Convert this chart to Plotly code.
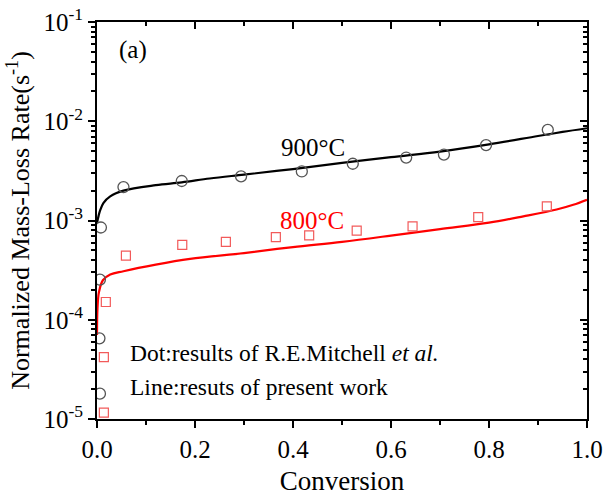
import plotly.graph_objects as go

# ---- data ----
conv_900_dots = [0.006, 0.005, 0.006, 0.008, 0.054, 0.173, 0.294, 0.418, 0.522, 0.631, 0.708, 0.794, 0.920]
rate_900_dots = [1.8e-5, 6.5e-5, 2.54e-4, 8.5e-4, 2.17e-3, 2.5e-3, 2.78e-3, 3.12e-3, 3.73e-3, 4.31e-3, 4.62e-3, 5.75e-3, 8.19e-3]

conv_800_dots = [0.014, 0.014, 0.018, 0.059, 0.174, 0.263, 0.365, 0.433, 0.530, 0.644, 0.778, 0.918]
rate_800_dots = [1.16e-5, 4.2e-5, 1.51e-4, 4.43e-4, 5.67e-4, 6.1e-4, 6.8e-4, 7.08e-4, 7.89e-4, 8.72e-4, 1.08e-3, 1.39e-3]

conv_900_line = [0.0, 0.003, 0.006, 0.013, 0.027, 0.054, 0.12, 0.173, 0.23, 0.3, 0.4, 0.5, 0.6, 0.7, 0.8, 0.9, 0.95, 1.0]
rate_900_line = [9.5e-4, 1.1e-3, 1.25e-3, 1.5e-3, 1.75e-3, 2.0e-3, 2.27e-3, 2.42e-3, 2.65e-3, 2.9e-3, 3.3e-3, 3.8e-3, 4.35e-3, 4.95e-3, 5.85e-3, 7.1e-3, 7.8e-3, 8.5e-3]

conv_800_line = [0.0, 0.001, 0.004, 0.012, 0.027, 0.054, 0.12, 0.19, 0.3, 0.4, 0.5, 0.6, 0.7, 0.8, 0.87, 0.938, 0.972, 1.0]
rate_800_line = [7e-5, 1.3e-4, 1.9e-4, 2.5e-4, 2.85e-4, 3.08e-4, 3.59e-4, 4.1e-4, 4.7e-4, 5.4e-4, 6.1e-4, 7.05e-4, 8.2e-4, 9.5e-4, 1.1e-3, 1.29e-3, 1.44e-3, 1.62e-3]

x_ticks = [0.0, 0.2, 0.4, 0.6, 0.8, 1.0]
x_tick_text = ["0.0", "0.2", "0.4", "0.6", "0.8", "1.0"]
y_ticks = [1e-5, 1e-4, 1e-3, 1e-2, 1e-1]
y_tick_text = ["10<sup>-5</sup>", "10<sup>-4</sup>", "10<sup>-3</sup>", "10<sup>-2</sup>", "10<sup>-1</sup>"]
y_minor = [m * 10.0 ** e for e in range(-5, -1) for m in range(2, 10)]
x_minor = [0.1, 0.3, 0.5, 0.7, 0.9]

FONT = "Liberation Serif, Times New Roman, serif"

fig = go.Figure()
fig.add_trace(go.Scatter(x=conv_900_line, y=rate_900_line, mode="lines",
                         line=dict(color="black", width=2.2, shape="spline"), showlegend=False))
fig.add_trace(go.Scatter(x=conv_800_line, y=rate_800_line, mode="lines",
                         line=dict(color="#ff0000", width=2.2, shape="spline"), showlegend=False))
fig.add_trace(go.Scatter(x=conv_900_dots, y=rate_900_dots, mode="markers",
                         marker=dict(symbol="circle-open", size=11, color="#555555", line=dict(width=1.3)),
                         showlegend=False))
fig.add_trace(go.Scatter(x=conv_800_dots, y=rate_800_dots, mode="markers",
                         marker=dict(symbol="square-open", size=9, color="#f25a5a", line=dict(width=1.2)),
                         showlegend=False))
# dummy trace to bind the mirror axes
fig.add_trace(go.Scatter(x=[None], y=[None], xaxis="x2", yaxis="y2", showlegend=False, hoverinfo="skip"))

axis_common = dict(showline=True, linecolor="black", linewidth=2, showgrid=False, zeroline=False,
                   tickcolor="black", tickwidth=2, ticklen=7, automargin=False,
                   tickfont=dict(family=FONT, size=25, color="black"))

fig.update_layout(
    width=603, height=496,
    margin=dict(l=97, r=16, t=22, b=77),
    plot_bgcolor="white", paper_bgcolor="white",
    font=dict(family=FONT, color="black"),
    xaxis=dict(**axis_common, range=[0, 1], ticks="outside", tickmode="array",
               tickvals=x_ticks, ticktext=x_tick_text,
               minor=dict(tickmode="array", tickvals=x_minor, ticks="outside", ticklen=4, tickwidth=2, tickcolor="black"),
               title=dict(text="Conversion", font=dict(family=FONT, size=27), standoff=20)),
    yaxis=dict(**axis_common, type="log", range=[-5, -1], ticks="outside", tickmode="array",
               tickvals=y_ticks, ticktext=y_tick_text,
               minor=dict(tickmode="array", tickvals=y_minor, ticks="outside", ticklen=4, tickwidth=1.5, tickcolor="black"),
               title=dict(text="Normalized Mass-Loss Rate(s<sup>-1</sup>)", font=dict(family=FONT, size=26), standoff=6)),
    xaxis2=dict(overlaying="x", side="top", range=[0, 1], showline=True, linecolor="black", linewidth=2,
                showgrid=False, zeroline=False, ticks="inside", tickmode="array", tickvals=x_ticks,
                ticklen=7, tickwidth=2, tickcolor="black", showticklabels=False, automargin=False,
                minor=dict(tickmode="array", tickvals=x_minor, ticks="inside", ticklen=4, tickwidth=2, tickcolor="black")),
    yaxis2=dict(overlaying="y", side="right", type="log", range=[-5, -1], showline=True, linecolor="black",
                linewidth=2, showgrid=False, zeroline=False, ticks="inside", tickmode="array", tickvals=y_ticks,
                ticklen=7, tickwidth=2, tickcolor="black", showticklabels=False, automargin=False,
                minor=dict(tickmode="array", tickvals=y_minor, ticks="inside", ticklen=4, tickwidth=1.5, tickcolor="black")),
)

annotations = [
    dict(text="(a)", x=0.041, y=0.929, xanchor="left", yanchor="middle", font=dict(size=25, color="black")),
    dict(text="900°C", x=0.44, y=0.685, xanchor="center", yanchor="middle", font=dict(size=25, color="black")),
    dict(text="800°C", x=0.439, y=0.501, xanchor="center", yanchor="middle", font=dict(size=25, color="#ff0000")),
    dict(text="Dot:results of R.E.Mitchell <i>et al.</i>", x=0.063, y=0.166, xanchor="left", yanchor="middle",
         font=dict(size=23.5, color="black")),
    dict(text="Line:resuts of present work", x=0.063, y=0.081, xanchor="left", yanchor="middle",
         font=dict(size=23.5, color="black")),
]
for a in annotations:
    fig.add_annotation(xref="paper", yref="paper", showarrow=False,
                       font_family=FONT, **{k: v for k, v in a.items()})

fig.write_html("out.html")
